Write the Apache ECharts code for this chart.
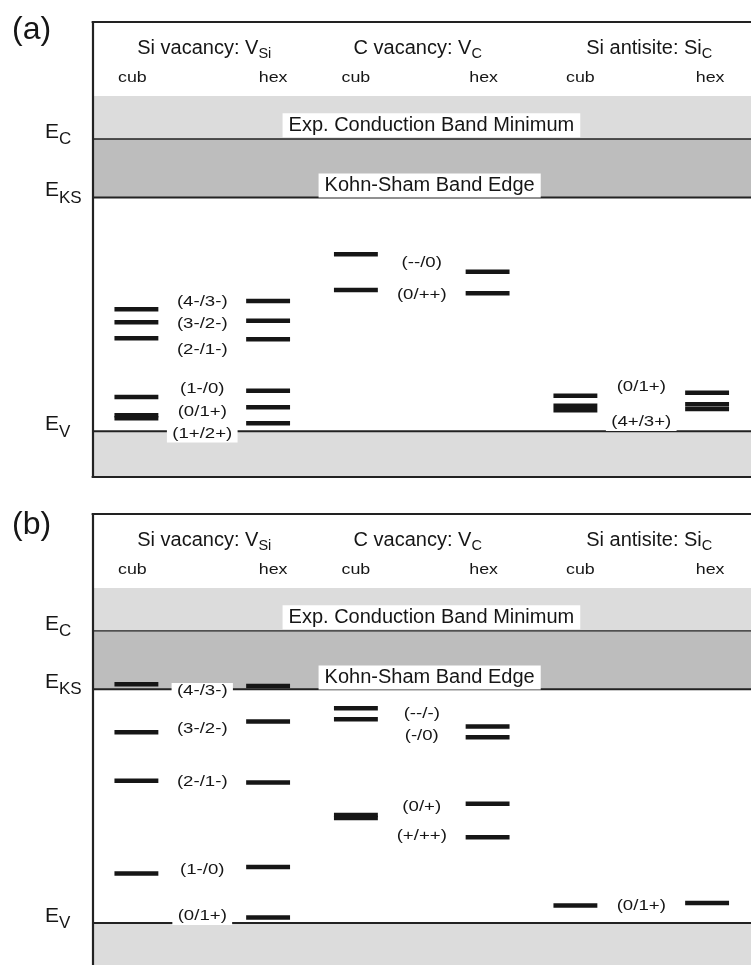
<!DOCTYPE html>
<html>
<head>
<meta charset="utf-8">
<title>SiC defect levels</title>
<script src="https://cdn.jsdelivr.net/npm/echarts@6/dist/echarts.min.js"></script>
<style>
  html, body { margin: 0; padding: 0; background: #fff; }
  #chart { width: 751px; height: 965px; }
</style>
</head>
<body>
<div id="chart"></div>
<script>
// sites along the horizontal axis
const siteNames = ['cub', 'hex', 'cub', 'hex', 'cub', 'hex'];
const siteX = [0.5, 2, 3, 4.5, 5.5, 7];
const defectNames = ['Si vacancy: V', 'C vacancy: V', 'Si antisite: Si'];
const defectSubs = ['Si', 'C', 'C'];
const defectX = [1.25, 3.75, 6.25];

// band edges, eV above E_V
const E_V = 0;
const E_KS = 2.56;
const E_C = 3.2;
const E_CB_TOP = 3.67;
const edgeSubs = ['C', 'KS', 'V'];
const edgeE = [E_C, E_KS, E_V];
const bandTexts = ['Exp. Conduction Band Minimum', 'Kohn-Sham Band Edge'];
const bandTextE = [E_C + 0.15, E_KS + 0.13];
const bandTextX = [3.86, 3.84];

// (a) transition levels per site (eV)
const levelsA = [
  [1.335, 1.193, 1.018, 0.375, 0.176, 0.143],
  [1.426, 1.210, 1.007, 0.444, 0.263, 0.088],
  [1.937, 1.546],
  [1.747, 1.510],
  [0.390, 0.280, 0.231],
  [0.422, 0.296, 0.245]
];
const labelsA = ['(4-/3-)', '(3-/2-)', '(2-/1-)', '(1-/0)', '(0/1+)', '(1+/2+)', '(--/0)', '(0/++)', '(0/1+)', '(4+/3+)'];
const labelsADefect = [0, 0, 0, 0, 0, 0, 1, 1, 2, 2];
const labelsAE = [1.412, 1.171, 0.890, 0.460, 0.215, -0.030, 1.839, 1.492, 0.487, 0.097];

// (b) transition levels per site (eV)
const levelsB = [
  [2.616, 2.090, 1.557, 0.543],
  [2.597, 2.206, 1.539, 0.613, 0.061],
  [2.353, 2.233, 1.183, 1.150],
  [2.152, 2.036, 1.306, 0.939],
  [0.193],
  [0.219]
];
const labelsB = ['(4-/3-)', '(3-/2-)', '(2-/1-)', '(1-/0)', '(0/1+)', '(--/-)', '(-/0)', '(0/+)', '(+/++)', '(0/1+)'];
const labelsBDefect = [0, 0, 0, 0, 0, 1, 1, 1, 1, 2];
const labelsBE = [2.535, 2.123, 1.539, 0.576, 0.072, 2.291, 2.042, 1.270, 0.955, 0.182];

const FONT = '"Liberation Sans", Arial, Helvetica, sans-serif';
const INK = '#161616';
const X_MAX = 7.5;
const Y_MAX = 4.48;
const titleShift = [2, -4, 8];
const siteShift = [-4, 5, 0, -4, 5, 3];

const panels = [
  { tag: '(a)', top: 22, height: 455, min: -0.5, levels: levelsA, labels: labelsA, labelDefect: labelsADefect, labelE: labelsAE },
  { tag: '(b)', top: 514, height: 451.4, min: -0.46, levels: levelsB, labels: labelsB, labelDefect: labelsBDefect, labelE: labelsBE }
];

const frameLine = { show: true, onZero: false, lineStyle: { color: '#222', width: 2.2 } };
function axisBase(i) {
  return {
    gridIndex: i, type: 'value', z: 10,
    axisLine: frameLine, axisTick: { show: false }, axisLabel: { show: false }, splitLine: { show: false }
  };
}

function custom(i, z, data, renderItem) {
  return { type: 'custom', xAxisIndex: i, yAxisIndex: i, silent: true, z: z, clip: false, data: data, encode: { x: 0, y: 1 }, renderItem: renderItem };
}

const series = [];
panels.forEach(function (p, i) {
  // shaded bands
  const bandFill = ['#dcdcdc', '#bdbdbd', '#dcdcdc'];
  const spans = [[E_C, E_CB_TOP], [E_KS, E_C], [p.min, E_V]];
  series.push(custom(i, 1, spans.map(function (s, k) { return [0, s[0], s[1], k]; }), function (params, api) {
    const cs = params.coordSys;
    const yLo = api.coord([0, api.value(1)])[1];
    const yHi = api.coord([0, api.value(2)])[1];
    return { type: 'rect', shape: { x: cs.x, y: yHi, width: cs.width, height: yLo - yHi }, style: { fill: bandFill[api.value(3)] } };
  }));

  // band edge lines
  const edgeWidth = [1.4, 2, 2];
  series.push(custom(i, 2, edgeE.map(function (e, k) { return [0, e, k]; }), function (params, api) {
    const cs = params.coordSys;
    const y = api.coord([0, api.value(1)])[1];
    return { type: 'line', shape: { x1: cs.x, y1: y, x2: cs.x + cs.width, y2: y }, style: { stroke: '#222', lineWidth: edgeWidth[api.value(2)] } };
  }));

  // defect levels
  const levelData = [];
  p.levels.forEach(function (list, s) {
    list.forEach(function (e) { levelData.push([siteX[s], e]); });
  });
  series.push(custom(i, 3, levelData, function (params, api) {
    const a = api.coord([api.value(0) - 0.25, api.value(1)]);
    const b = api.coord([api.value(0) + 0.25, api.value(1)]);
    return { type: 'rect', shape: { x: a[0], y: a[1] - 2.25, width: b[0] - a[0], height: 4.5 }, style: { fill: INK } };
  }));

  // charge state labels
  series.push(custom(i, 4, p.labels.map(function (t, k) { return [defectX[p.labelDefect[k]], p.labelE[k]]; }), function (params, api) {
    const c = api.coord([api.value(0), api.value(1)]);
    return {
      type: 'text', x: c[0], y: c[1], scaleX: 1.33,
      style: {
        text: p.labels[params.dataIndex], font: '14px ' + FONT, fill: INK,
        align: 'center', verticalAlign: 'middle', textAlign: 'center', textVerticalAlign: 'middle',
        backgroundColor: '#fff', padding: [1.5, 4]
      }
    };
  }));

  // band labels
  series.push(custom(i, 4, bandTexts.map(function (t, k) { return [bandTextX[k], bandTextE[k]]; }), function (params, api) {
    const c = api.coord([api.value(0), api.value(1)]);
    return {
      type: 'text', x: c[0], y: c[1],
      style: {
        text: bandTexts[params.dataIndex], font: '20px ' + FONT, fill: INK,
        align: 'center', verticalAlign: 'middle', textAlign: 'center', textVerticalAlign: 'middle',
        backgroundColor: '#fff', padding: [2, 6], lineHeight: 20
      }
    };
  }));

  // defect titles
  series.push(custom(i, 4, defectX.map(function (x) { return [x, 0]; }), function (params, api) {
    const cs = params.coordSys;
    const k = params.dataIndex;
    const x = api.coord([api.value(0), 0])[0] + titleShift[k];
    return {
      type: 'text', x: x, y: cs.y + 26.5,
      style: {
        text: '{m|' + defectNames[k] + '}{s|' + defectSubs[k] + '}',
        align: 'center', verticalAlign: 'middle', textAlign: 'center', textVerticalAlign: 'middle',
        rich: {
          m: { fontSize: 20, fontFamily: FONT, fill: INK, lineHeight: 26 },
          s: { fontSize: 14.5, fontFamily: FONT, fill: INK, lineHeight: 12, verticalAlign: 'bottom' }
        }
      }
    };
  }));

  // site labels
  series.push(custom(i, 4, siteX.map(function (x) { return [x, 0]; }), function (params, api) {
    const cs = params.coordSys;
    const x = api.coord([api.value(0), 0])[0] + siteShift[params.dataIndex];
    return {
      type: 'text', x: x, y: cs.y + 56, scaleX: 1.15,
      style: {
        text: siteNames[params.dataIndex], font: '15.5px ' + FONT, fill: INK,
        align: 'center', verticalAlign: 'middle', textAlign: 'center', textVerticalAlign: 'middle'
      }
    };
  }));

  // E_C, E_KS, E_V on the left
  series.push(custom(i, 4, edgeE.map(function (e) { return [0, e]; }), function (params, api) {
    const c = api.coord([0, api.value(1)]);
    return {
      type: 'text', x: c[0] - 47.5, y: c[1] - 7,
      style: {
        text: '{e|E}{s|' + edgeSubs[params.dataIndex] + '}',
        align: 'left', verticalAlign: 'middle', textAlign: 'left', textVerticalAlign: 'middle',
        rich: {
          e: { fontSize: 21, fontFamily: FONT, fill: INK, lineHeight: 32 },
          s: { fontSize: 17, fontFamily: FONT, fill: INK, lineHeight: 10, verticalAlign: 'bottom' }
        }
      }
    };
  }));
});

const option = {
  animation: false,
  backgroundColor: '#fff',
  title: panels.map(function (p, i) {
    return { text: p.tag, left: 12, top: p.top + (i === 0 ? -8 : -5), padding: 0, textStyle: { fontSize: 32, fontWeight: 'normal', fontFamily: FONT, color: INK } };
  }),
  grid: panels.map(function (p) {
    return { left: 92.5, top: p.top, width: 669.75, height: p.height };
  }),
  xAxis: [
    Object.assign(axisBase(0), { min: 0, max: X_MAX, position: 'top' }),
    Object.assign(axisBase(1), { min: 0, max: X_MAX, position: 'top' }),
    Object.assign(axisBase(0), { min: 0, max: X_MAX, position: 'bottom' })
  ],
  yAxis: panels.map(function (p, i) {
    return Object.assign(axisBase(i), { min: p.min, max: Y_MAX, position: 'left' });
  }),
  series: series
};

const myChart = echarts.init(document.getElementById('chart'));
myChart.setOption(option);
</script>
</body>
</html>
